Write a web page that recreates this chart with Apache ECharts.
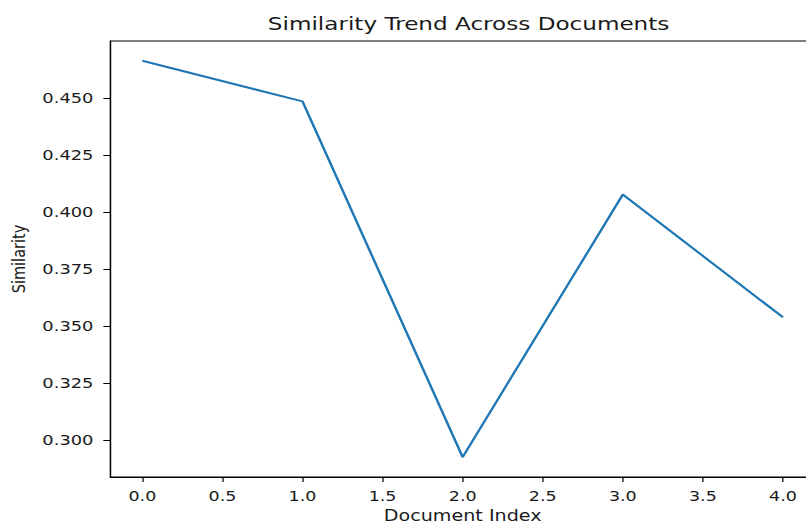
<!DOCTYPE html>
<html>
<head>
<meta charset="utf-8">
<script src="https://cdn.jsdelivr.net/npm/echarts@6/dist/echarts.min.js"></script>
<style>
  html, body { margin: 0; padding: 0; background: #fff; overflow: hidden; }
  #wrap { width: 806px; height: 524px; overflow: hidden; position: relative; }
  #chart { width: 645px; height: 524px; transform: scaleX(1.24961); transform-origin: 0 0; }
</style>
</head>
<body>
<div id="wrap"><div id="chart"></div></div>
<script>
// Data
const docIndex = [0, 1, 2, 3, 4];
const similarity = [0.4664, 0.4486, 0.2924, 0.4077, 0.3538];
const xTicks = [0, 0.5, 1, 1.5, 2, 2.5, 3, 3.5, 4];
const yTicks = [0.300, 0.325, 0.350, 0.375, 0.400, 0.425, 0.450];

// matplotlib-style 5% autoscale margins
const xMin = Math.min(...docIndex), xMax = Math.max(...docIndex);
const yMin = Math.min(...similarity), yMax = Math.max(...similarity);
const xPad = (xMax - xMin) * 0.05, yPad = (yMax - yMin) * 0.05;

const points = docIndex.map((x, i) => [x, similarity[i]]);

const FONT = 'DejaVu Sans';
const TXT = '#1a1a1a';

const chart = echarts.init(document.getElementById('chart'), null, { renderer: 'svg' });
chart.setOption({
  animation: false,
  backgroundColor: '#ffffff',
  title: {
    text: 'Similarity Trend Across Documents',
    left: 370,
    textAlign: 'center',
    top: 9,
    textStyle: { fontFamily: FONT, fontSize: 18.5, fontWeight: 'normal', color: TXT }
  },
  grid: {
    left: 88.3, right: -7.2, top: 41, bottom: 47,
    outerBoundsMode: 'none',
    containLabel: false,
    show: true, borderColor: '#000', borderWidth: 1, backgroundColor: 'transparent'
  },
  xAxis: {
    type: 'value',
    min: xMin - xPad, max: xMax + xPad,
    name: 'Document Index',
    nameLocation: 'middle',
    nameGap: 31,
    nameTextStyle: { fontFamily: FONT, fontSize: 15.3, color: TXT },
    axisLine: { show: true, onZero: false, lineStyle: { color: '#000', width: 1 } },
    axisTick: { show: true, length: 5, inside: false, customValues: xTicks, lineStyle: { color: '#000', width: 1 } },
    axisLabel: {
      customValues: xTicks, margin: 12,
      fontFamily: FONT, fontSize: 14, color: TXT,
      formatter: v => Number(v).toFixed(1)
    },
    splitLine: { show: false }
  },
  yAxis: {
    type: 'value',
    min: yMin - yPad, max: yMax + yPad,
    name: 'Similarity',
    nameLocation: 'middle',
    nameGap: 62,
    nameRotate: 90,
    nameTextStyle: { fontFamily: FONT, fontSize: 14.5, color: TXT },
    axisLine: { show: true, onZero: false, lineStyle: { color: '#000', width: 1 } },
    axisTick: { show: true, length: 5.6, inside: false, customValues: yTicks, lineStyle: { color: '#000', width: 1 } },
    axisLabel: {
      customValues: yTicks, margin: 13.5,
      fontFamily: FONT, fontSize: 14.3, color: TXT,
      formatter: v => Number(v).toFixed(3)
    },
    splitLine: { show: false }
  },
  series: [{
    type: 'line',
    data: points,
    showSymbol: false,
    symbol: 'none',
    lineStyle: { color: '#1f77b4', width: 2 },
    itemStyle: { color: '#1f77b4' }
  }]
});
</script>
</body>
</html>
